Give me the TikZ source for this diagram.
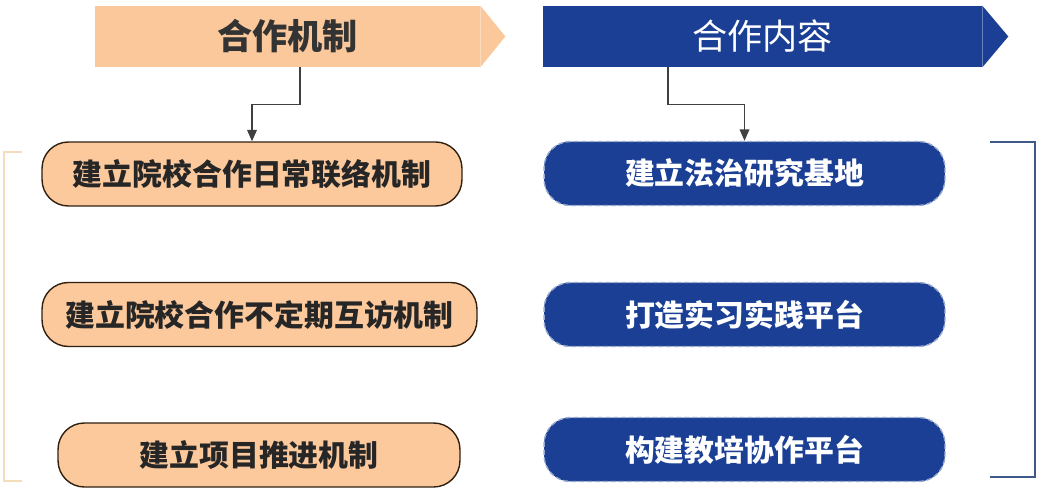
\documentclass[tikz,border=0pt]{standalone}
\usepackage{fontspec}
\newfontfamily\cjk{Noto Sans CJK SC}
\usetikzlibrary{calc,arrows.meta}
\definecolor{peach}{HTML}{FAC89A}
\definecolor{boxpeach}{HTML}{FCC99C}
\definecolor{navy}{HTML}{1A3F94}
\definecolor{brk}{HTML}{F3DDBA}
\definecolor{brkblue}{HTML}{3D5A8A}
\tikzset{
	hdr/.style={minimum height=1.22cm, inner sep=0pt},
	mech/.style={draw=black!75!brown, line width=0.8pt, fill=boxpeach, rounded corners=15pt, minimum height=1.28cm, inner sep=0pt, text=black!85, font=\cjk\bfseries\fontsize{17}{19}\selectfont},
	cont/.style={draw=navy!45!white, dashed, dash pattern=on 3pt off 1.5pt, line width=0.8pt, fill=navy, rounded corners=15pt, minimum height=1.28cm, minimum width=8.02cm, inner sep=0pt, text=white, font=\cjk\bfseries\fontsize{17}{19}\selectfont},
	link/.style={draw=black!75, line width=0.8pt, -{Triangle[width=5.5pt,length=6.5pt]}}
}
\begin{document}
\begin{tikzpicture}[x=0.02cm, y=-0.02cm]
		%%%%% START %%%%%
		\useasboundingbox (0, 0) rectangle (1053, 496);
		
		% headers
		\node[hdr, fill=peach, minimum width=7.7cm, text=black!80, font=\cjk\bfseries\fontsize{20}{22}\selectfont] (hdrMech) at (287.5, 36.5) {合作机制};
		\fill[peach] (hdrMech.north east) -- ($(hdrMech.east)+(25, 0)$) -- (hdrMech.south east) -- cycle;
		
		\node[hdr, fill=navy, minimum width=8.78cm, text=white, font=\cjk\fontsize{20}{22}\selectfont] (hdrCont) at (762.5, 36.5) {合作内容};
		\fill[navy] (hdrCont.north east) -- ($(hdrCont.east)+(26, 0)$) -- (hdrCont.south east) -- cycle;
		
		% left column
		\node[mech, minimum width=8.4cm] (mechA) at (252, 174) {建立院校合作日常联络机制};
		\node[mech, minimum width=8.7cm] (mechB) at (259.5, 314.5) {建立院校合作不定期互访机制};
		\node[mech, minimum width=8.04cm] (mechC) at (259, 455) {建立项目推进机制};
		
		% right column
		\node[cont] (contA) at (744.5, 173.5) {建立法治研究基地};
		\node[cont] (contB) at (744.5, 314.5) {打造实习实践平台};
		\node[cont] (contC) at (744.5, 449.5) {构建教培协作平台};
		
		% connectors
		\draw[link] ([xshift=0.25cm]hdrMech.south) -- ++(0, 37) -| (mechA.north);
		\draw[link] ([xshift=-1.89cm]hdrCont.south) -- ++(0, 37) -| (contA.north);
		
		% brackets
		\draw[brk, line width=0.6pt] (22, 152) -- (4, 152) -- (4, 481) -- (22, 481);
		\draw[brkblue, line width=0.8pt] (990, 142) -- (1035, 142) -- (1035, 477) -- (990, 477);
		%%%%% END %%%%%
\end{tikzpicture}
\end{document}
